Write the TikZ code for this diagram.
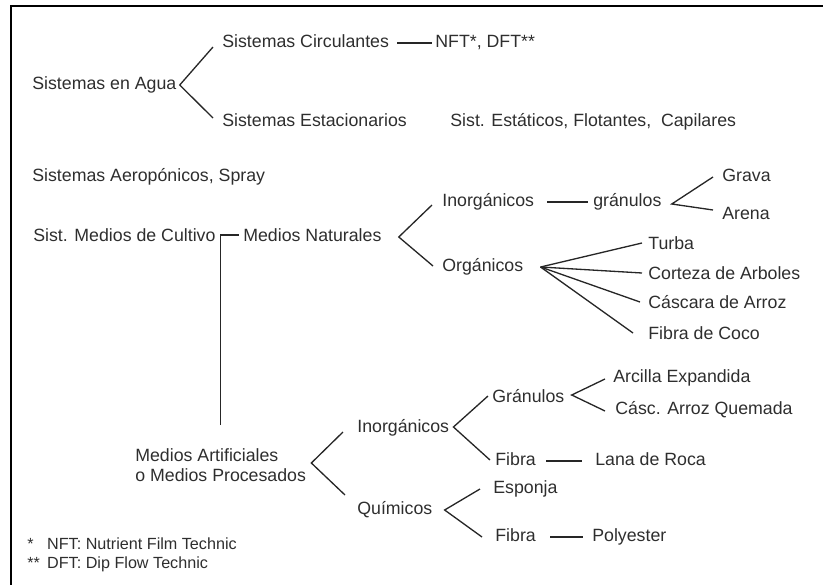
\documentclass[tikz,border=0pt]{standalone}
\usepackage{fontspec}
\setmainfont{Liberation Sans}
\usepackage{xcolor}
\definecolor{hyText}{HTML}{2E2E2E}
\definecolor{hyLine}{HTML}{262626}
\tikzset{
  lbl/.style={anchor=west, inner sep=0pt, text height=7.4pt, text depth=2pt, font=\fontsize{10.1}{12}\selectfont, text=hyText},
  lbltwo/.style={anchor=west, inner sep=0pt, align=left, font=\fontsize{10.1}{11.4}\selectfont, text=hyText},
  note/.style={lbl, font=\fontsize{9.2}{11}\selectfont},
  branch/.style={draw=hyLine, line width=0.75pt},
  frame/.style={draw=black, line width=1.5pt}
}
\begin{document}
\begin{tikzpicture}[x=0.02cm,y=-0.02cm]
  \useasboundingbox (0,0) rectangle (823,585);
  \draw[frame] (11,585) -- (11,6) -- (823,6);
  % water systems
  \node[lbl] (agua) at (32,85) {Sistemas en Agua};
  \node[lbl] (circ) at (222,43) {Sistemas Circulantes};
  \node[lbl] (nft) at (435,43) {NFT*, DFT**};
  \node[lbl] (estac) at (222,122) {Sistemas Estacionarios};
  \node[lbl] (estat) at (450,122) {Sist. Estáticos, Flotantes,\ \ Capilares};
  \node[lbl] (aero) at (32,177) {Sistemas Aeropónicos, Spray};
  \draw[branch] ([shift={(-9,4)}]circ.west) -- ([shift={(3,0)}]agua.east) -- ([shift={(-9,-4)}]estac.west);
  \draw[branch] ([shift={(8,0)}]circ.east) -- ([shift={(-3,0)}]nft.west);
  % natural media
  \node[lbl] (cultivo) at (33,237) {Sist. Medios de Cultivo};
  \node[lbl] (nat) at (243,237) {Medios Naturales};
  \node[lbl] (ino) at (442,202) {Inorgánicos};
  \node[lbl] (gran) at (593,202) {gránulos};
  \node[lbl] (grava) at (722,177) {Grava};
  \node[lbl] (arena) at (722,215) {Arena};
  \node[lbl] (org) at (442,267) {Orgánicos};
  \node[lbl] (turba) at (648,245) {Turba};
  \node[lbl] (corteza) at (648,275) {Corteza de Arboles};
  \node[lbl] (cascara) at (648,304) {Cáscara de Arroz};
  \node[lbl] (coco) at (648,335) {Fibra de Coco};
  \draw[branch] ([shift={(-10,3)}]ino.west) -- ([shift={(17,0)}]nat.east) -- ([shift={(-9,-1)}]org.west);
  \draw[branch] ([shift={(13,0)}]ino.east) -- ([shift={(-5,0)}]gran.west);
  \draw[branch] ([shift={(-9,0)}]grava.west) -- ([shift={(10,2)}]gran.east) -- ([shift={(-9,-5)}]arena.west);
  \foreach \n/\s in {turba/-6,corteza/-6,cascara/-8,coco/-15}{
    \draw[branch] ([shift={(17,0)}]org.east) -- ([shift={(\s,-2)}]\n.west);}
  % artificial media
  \node[lbltwo] (arti) at (135,465) {Medios Artificiales\\o Medios Procesados};
  \node[lbl] (inob) at (357,428) {Inorgánicos};
  \node[lbl] (granb) at (492,398) {Gránulos};
  \node[lbl] (arcilla) at (613,378) {Arcilla Expandida};
  \node[lbl] (quemada) at (615,410) {Cásc. Arroz Quemada};
  \node[lbl] (fibra) at (495,461) {Fibra};
  \node[lbl] (lana) at (595,461) {Lana de Roca};
  \node[lbl] (quim) at (357,510) {Químicos};
  \node[lbl] (esponja) at (493,489) {Esponja};
  \node[lbl] (fibrab) at (495,537) {Fibra};
  \node[lbl] (poly) at (592,537) {Polyester};
  \draw[branch] ([shift={(0,-23)}]arti.north) |- ([shift={(-4,-2)}]nat.west);
  \draw[branch] ([shift={(-14,4)}]inob.west) -- ([shift={(5,-2)}]arti.east) -- ([shift={(-12,-15)}]quim.west);
  \draw[branch] ([shift={(-4,-2)}]granb.west) -- ([shift={(4,-1)}]inob.east) -- ([shift={(-5,-1)}]fibra.west);
  \draw[branch] ([shift={(-8,1)}]arcilla.west) -- ([shift={(7,-3)}]granb.east) -- ([shift={(-10,1)}]quemada.west);
  \draw[branch] ([shift={(10,0)}]fibra.east) -- ([shift={(-13,0)}]lana.west);
  \draw[branch] ([shift={(-13,0)}]esponja.west) -- ([shift={(12,0)}]quim.east) -- ([shift={(-13,0)}]fibrab.west);
  \draw[branch] ([shift={(14,0)}]fibrab.east) -- ([shift={(-9,0)}]poly.west);
  % footnotes
  \node[note] (fna) at (27,545) {\makebox[11.3pt][l]{*}NFT: Nutrient Film Technic};
  \node[note] (fnb) at (27,564) {\makebox[11.3pt][l]{**}DFT: Dip Flow Technic};
\end{tikzpicture}
\end{document}
